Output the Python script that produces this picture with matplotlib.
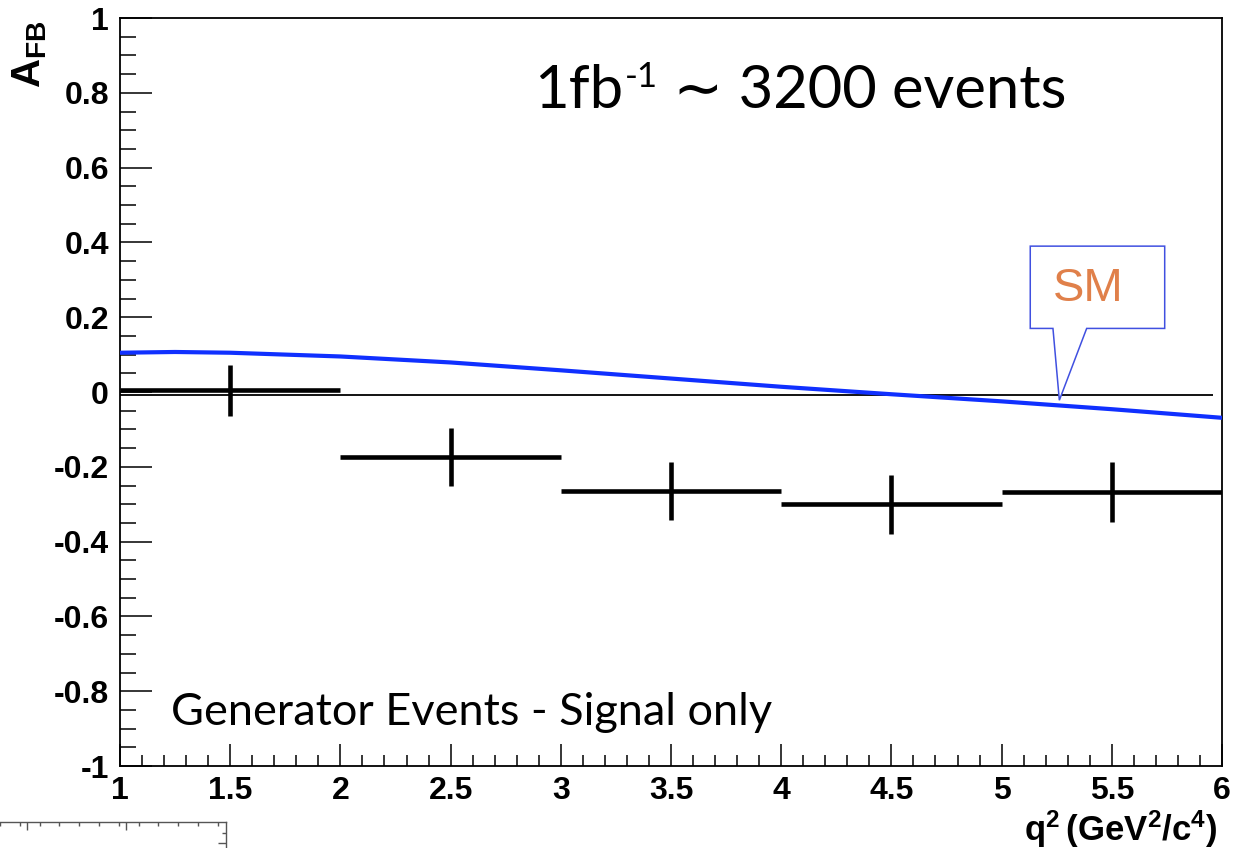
import matplotlib
matplotlib.use("Agg")
import matplotlib.pyplot as plt
from matplotlib.patches import Polygon
from matplotlib.ticker import MultipleLocator, FixedLocator

# ---- data ----
bin_centers = [1.5, 2.5, 3.5, 4.5, 5.5]
bin_half_width = [0.5, 0.5, 0.5, 0.5, 0.5]
afb_values = [0.005, -0.174, -0.265, -0.300, -0.268]
afb_errors = [0.068, 0.077, 0.078, 0.079, 0.080]

sm_q2 = [1.0, 1.25, 1.5, 2.0, 2.5, 3.0, 3.5, 4.0, 4.5, 5.0, 5.5, 6.0]
sm_afb = [0.105, 0.107, 0.105, 0.095, 0.079, 0.058, 0.036, 0.014, -0.006, -0.025, -0.046, -0.069]

x_ticks = [1, 1.5, 2, 2.5, 3, 3.5, 4, 4.5, 5, 5.5, 6]
x_tick_labels = ["1", "1.5", "2", "2.5", "3", "3.5", "4", "4.5", "5", "5.5", "6"]
y_ticks = [-1, -0.8, -0.6, -0.4, -0.2, 0, 0.2, 0.4, 0.6, 0.8, 1]
y_tick_labels = ["-1", "-0.8", "-0.6", "-0.4", "-0.2", "0", "0.2", "0.4", "0.6", "0.8", "1"]

zero_line = (-0.008, 1.0, 5.96)          # y, x start, x end
sm_callout_box = (5.13, 5.74, 0.17, 0.39)  # x0, x1, y0, y1
sm_callout_tail = (5.233, 5.386, 5.262, -0.022)  # base x0, base x1, tip x, tip y

plt.rcParams["mathtext.fontset"] = "custom"
plt.rcParams["mathtext.rm"] = "Liberation Sans"
plt.rcParams["mathtext.bf"] = "Liberation Sans:bold"

fig = plt.figure(figsize=(12.34, 8.48), dpi=100)
ax = fig.add_axes([120 / 1234, 1 - 766 / 848, 1102 / 1234, 748 / 848])

# SM prediction
ax.plot(sm_q2, sm_afb, color="#1030ff", lw=3, solid_capstyle="butt", zorder=3)

# zero line
ax.hlines(zero_line[0], zero_line[1], zero_line[2], color="black", lw=1.3, zorder=2)

# measured points
ax.errorbar(bin_centers, afb_values, xerr=bin_half_width, yerr=afb_errors,
            fmt="none", ecolor="black", elinewidth=3.3, capsize=0, zorder=4)

# SM callout
bx0, bx1, by0, by1 = sm_callout_box
tx0, tx1, tipx, tipy = sm_callout_tail
callout = Polygon([(bx0, by0), (bx0, by1), (bx1, by1), (bx1, by0), (tx1, by0),
                   (tipx, tipy), (tx0, by0)], closed=True, facecolor="white",
                  edgecolor="#4050e0", lw=1.1, zorder=5)
ax.add_patch(callout)
ax.text(5.394, 0.276, "SM", color="#e0804a", fontsize=34, family="Liberation Sans",
        ha="center", va="center", zorder=6)

# annotations
font_ann = ["Lato", "DejaVu Sans"]
t1 = ax.text(0.376, 0.880, "1fb", transform=ax.transAxes, fontsize=43,
             family=font_ann, ha="left", va="baseline")
t2 = ax.annotate("-1", xy=(1, 1), xycoords=t1, xytext=(1, 2), textcoords="offset points",
                 fontsize=25, family=font_ann, ha="left", va="top")
ax.annotate(" ∼ 3200 events", xy=(1, 0), xycoords=(t2, t1), xytext=(0, 0),
            textcoords="offset points", fontsize=43, family=font_ann,
            ha="left", va="bottom")
ax.text(0.046, 0.072, "Generator Events - Signal only", transform=ax.transAxes,
        fontsize=32.5, family=font_ann, ha="left", va="center")

# axes
ax.set_xlim(1, 6)
ax.set_ylim(-1, 1)
ax.xaxis.set_major_locator(FixedLocator(x_ticks))
ax.xaxis.set_minor_locator(MultipleLocator(0.1))
ax.yaxis.set_major_locator(FixedLocator(y_ticks))
ax.yaxis.set_minor_locator(MultipleLocator(0.05))
ax.set_xticklabels(x_tick_labels)
ax.set_yticklabels(y_tick_labels)
for lab in ax.get_xticklabels() + ax.get_yticklabels():
    lab.set_family("Liberation Sans")
    lab.set_fontweight("bold")
    lab.set_fontsize(23)
ax.tick_params(axis="y", which="major", direction="in", length=23, width=1.1, pad=8)
ax.tick_params(axis="y", which="minor", direction="in", length=11.5, width=1.1)
ax.tick_params(axis="x", which="major", direction="in", length=16, width=1.1, pad=7)
ax.tick_params(axis="x", which="minor", direction="in", length=8, width=1.1)
for s in ax.spines.values():
    s.set_linewidth(1.3)

ax.text(-0.082, 0.997, r"$\mathbf{A_{FB}}$", transform=ax.transAxes, rotation=90,
        fontsize=29, ha="center", va="top")
ax.text(0.9955, -0.057, r"$\mathbf{q^{2}\,(GeV^{2}/c^{4})}$", transform=ax.transAxes,
        fontsize=25, ha="right", va="top")

# corner of a second frame peeking in at the bottom left
ax2 = fig.add_axes([-247 / 1234, -200 / 848, 473 / 1234, 226 / 848])
ax2.set_xlim(-247, 226)
ax2.set_ylim(1048, 822)
ax2.patch.set_alpha(0)
for side in ["left", "bottom"]:
    ax2.spines[side].set_visible(False)
for side in ["top", "right"]:
    ax2.spines[side].set_color("#555555")
    ax2.spines[side].set_linewidth(1.0)
ax2.xaxis.set_major_locator(FixedLocator([-72, 27, 126]))
ax2.xaxis.set_minor_locator(MultipleLocator(19.8))
ax2.yaxis.set_major_locator(FixedLocator([843]))
ax2.yaxis.set_minor_locator(FixedLocator([832.7]))
ax2.tick_params(top=True, bottom=False, left=False, right=True, which="both",
                labeltop=False, labelbottom=False, labelleft=False, labelright=False,
                direction="in", color="#555555", width=1.0)
ax2.tick_params(which="major", length=6)
ax2.tick_params(which="minor", length=3)

fig.savefig("out.png", dpi=100)
